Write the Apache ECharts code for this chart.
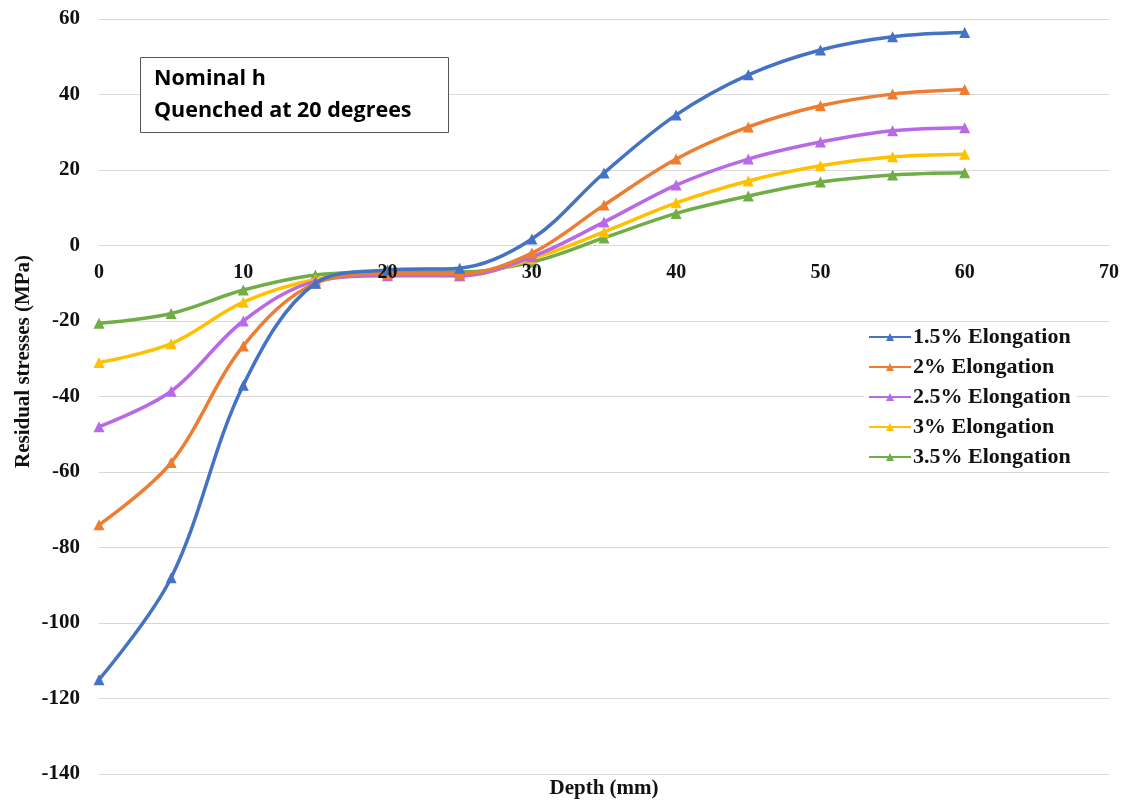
<!DOCTYPE html>
<html><head><meta charset="utf-8">
<script src="https://cdn.jsdelivr.net/npm/echarts@6/dist/echarts.min.js"></script>
<style>html,body{margin:0;padding:0;background:#fff}#c{width:1129px;height:806px}</style>
</head><body><div id="c"></div>
<script>
const depth = [0,5,10,15,20,25,30,35,40,45,50,55,60];
const seriesNames = ['1.5% Elongation','2% Elongation','2.5% Elongation','3% Elongation','3.5% Elongation'];
const s15 = [-115,-88,-37,-10,-6.5,-6,1.7,19.2,34.6,45.2,51.8,55.3,56.4];
const s20 = [-74,-57.5,-26.6,-10,-7.5,-7.5,-2,10.7,22.9,31.4,37,40.1,41.3];
const s25 = [-48,-38.6,-20,-9.5,-8,-8,-3,6.2,16,22.9,27.4,30.4,31.2];
const s30 = [-31,-26,-15,-9,-7.5,-8,-3.5,3.6,11.3,17.1,21.1,23.5,24.2];
const s35 = [-20.6,-18,-11.8,-7.8,-7,-7,-4.4,2,8.5,13.1,16.8,18.7,19.3];
const colors = ['#4472C4','#ED7D31','#B869E6','#FFC000','#70AD47'];
const yTicks = [-140,-120,-100,-80,-60,-40,-20,0,20,40,60];
const xTicks = [0,10,20,30,40,50,60,70];
const allData = [s15,s20,s25,s30,s35];

const gridTop = 19, gridBottom = 32, H = 806;
const plotH = H - gridTop - gridBottom;
const yMin = yTicks[0], yMax = yTicks[yTicks.length-1];
// move x axis up so that it sits on y = 0
const zeroOffset = -plotH * (0 - yMin) / (yMax - yMin);

const chart = echarts.init(document.getElementById('c'));
chart.setOption({
  backgroundColor:'#fff',
  animation:false,
  grid:{left:99,right:20,top:gridTop,bottom:gridBottom,outerBoundsMode:'none',containLabel:false},
  legend:{
    orient:'vertical', left:864, top:322, itemGap:8, itemWidth:42, itemHeight:10,
    backgroundColor:'#fff', padding:[4,6,4,4],
    textStyle:{fontFamily:'Liberation Serif',fontWeight:'bold',fontSize:22,color:'#111',padding:[0,0,0,-3]},
    data:seriesNames
  },
  xAxis:{
    type:'value', min:xTicks[0], max:xTicks[xTicks.length-1], interval:10,
    position:'bottom', offset:zeroOffset, z:20,
    axisLine:{show:false,onZero:false},
    axisTick:{show:false}, splitLine:{show:false},
    axisLabel:{fontFamily:'Liberation Serif',fontWeight:'bold',fontSize:20,color:'#111',margin:17}
  },
  yAxis:{
    type:'value', min:yMin, max:yMax, interval:20,
    axisLine:{show:false,onZero:false}, axisTick:{show:false},
    splitLine:{lineStyle:{color:'#d9d9d9',width:1}},
    axisLabel:{fontFamily:'Liberation Serif',fontWeight:'bold',fontSize:21,color:'#111',margin:19}
  },
  graphic:[
    {type:'text', x:13, y:468, rotation:Math.PI/2,
     style:{text:'Residual stresses (MPa)', fontFamily:'Liberation Serif', fontWeight:'bold', fontSize:21, fill:'#111', textVerticalAlign:'top'}},
    {type:'text', x:604, y:789,
     style:{text:'Depth (mm)', fontFamily:'Liberation Serif', fontWeight:'bold', fontSize:21, fill:'#111', textAlign:'center', textVerticalAlign:'middle'}},
    {type:'rect', shape:{x:140.5,y:57.5,width:308,height:75}, style:{fill:'#fff',stroke:'#555',lineWidth:1}, z:100},
    {type:'text', x:154, y:63, z:101,
     style:{text:'Nominal h\nQuenched at 20 degrees', fontFamily:'Open Sans', fontWeight:'bold', fontSize:21.5, lineHeight:32, fill:'#000'}}
  ],
  series: seriesNames.map((n,i)=>({
    name:n, type:'line', smooth:0.35,
    data: depth.map((d,j)=>[d, allData[i][j]]),
    symbol:'triangle', symbolSize:11,
    lineStyle:{width:3.5,color:colors[i]},
    itemStyle:{color:colors[i]},
    z: 10 - i
  }))
});
</script></body></html>
